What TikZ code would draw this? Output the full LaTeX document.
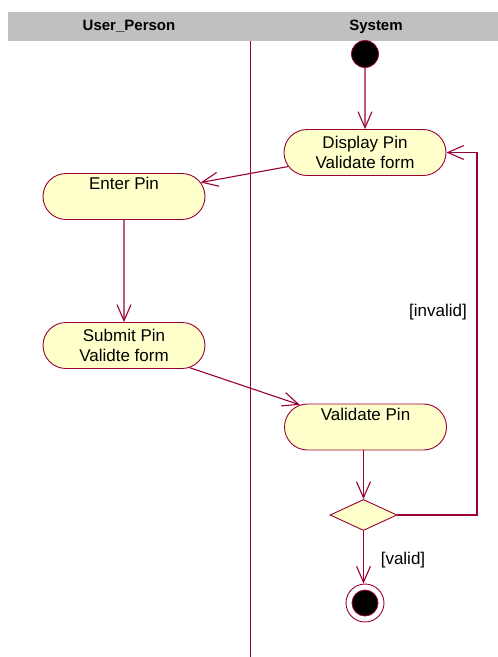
\documentclass[tikz,border=0pt]{standalone}
\usepackage{fontspec}
\setmainfont{Liberation Sans}
\usetikzlibrary{shapes.misc,shapes.geometric,arrows.meta}
\definecolor{umlline}{HTML}{990033}
\definecolor{umlfill}{HTML}{FFFFCC}
\definecolor{lanehead}{HTML}{C0C0C0}
\begin{document}
\begin{tikzpicture}[x=1pt,y=-1pt,
  activity/.style={rounded rectangle, draw=umlline, fill=umlfill, line width=0.9pt,
    minimum width=162pt, minimum height=46pt, inner sep=0pt, align=center,
    font=\fontsize{17}{20}\selectfont},
  decision/.style={diamond, draw=umlline, fill=umlfill, line width=0.9pt,
    minimum width=67pt, minimum height=31pt, inner sep=0pt, aspect=2.16},
  flow/.style={draw=umlline, line width=1.1pt,
    -{Straight Barb[length=16pt,width=14pt,line width=1.1pt]}},
  guard/.style={font=\fontsize{17}{20}\selectfont},
  lanetitle/.style={font=\bfseries\fontsize{15}{18}\selectfont}]
  \useasboundingbox (0,0) rectangle (498,657);

  % swimlane header and divider
  \fill[lanehead] (8,12) rectangle (498,41);
  \node[lanetitle] (laneuser) at (129,26.5) {User\_Person};
  \node[lanetitle] (lanesys) at (376,26.5) {System};
  \draw[umlline, line width=0.8pt] (250,41) -- (250,657);

  % start and end states
  \node[circle, fill=black, draw=umlline, line width=0.8pt, minimum size=27pt, inner sep=0pt] (start) at (365,54) {};
  \node[circle, fill=white, draw=umlline, line width=0.9pt, minimum size=38pt, inner sep=0pt] (final) at (365,603) {};
  \node[circle, fill=black, draw=umlline, line width=0.8pt, minimum size=26pt, inner sep=0pt] (finalcore) at (final) {};

  % activities
  \node[activity] (disp) at (365,152.5) {Display Pin\\Validate form};
  \node[activity] (enter) at (124,196.5) {Enter Pin\\\strut};
  \node[activity] (submit) at (124,345.5) {Submit Pin\\Validte form};
  \node[activity] (valid) at (365.5,427) {Validate Pin\\\strut};
  \node[decision] (dec) at (363.5,515) {};

  % transitions
  \draw[flow] (start) -- (disp);
  \draw[flow] (disp) -- (enter);
  \draw[flow] (enter) -- (submit);
  \draw[flow] (submit) -- (valid);
  \draw[flow] (valid.south -| dec.north) -- (dec.north);
  \draw[flow] (dec.south) -- (final.north -| dec.south);
  \coordinate (loopturn) at (477,515);
  \draw[flow] (dec.east) -- (loopturn) |- (disp.east);

  % guards
  \node[guard] (ginvalid) at (438,312) {[invalid]};
  \node[guard] (gvalid) at (403,560) {[valid]};
\end{tikzpicture}
\end{document}
